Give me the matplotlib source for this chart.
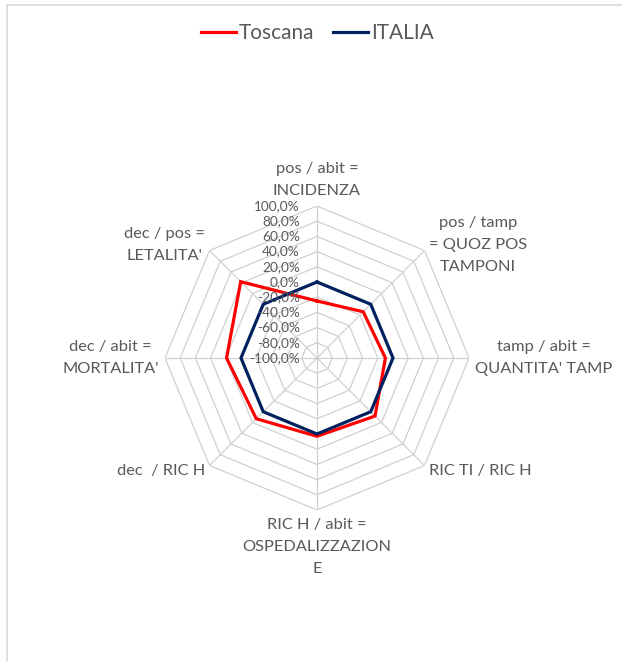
"""
Radar chart: indicatori COVID Toscana vs ITALIA (scarto relativo).
"""
import numpy as np
import matplotlib.pyplot as plt
from matplotlib.lines import Line2D

# dati
categories = [
    "pos / abit =\nINCIDENZA",
    "pos / tamp\n= QUOZ POS\nTAMPONI",
    "tamp / abit =\nQUANTITA' TAMP",
    "RIC TI / RIC H",
    "RIC H / abit =\nOSPEDALIZZAZION\nE",
    "dec  / RIC H",
    "dec / abit =\nMORTALITA'",
    "dec / pos =\nLETALITA'",
]
toscana = [-25, -14, -10, 8, 3, 13, 19, 42]
italia = [0, 0, 0, 0, 0, 0, 0, 0]
ticks = [-100, -80, -60, -40, -20, 0, 20, 40, 60, 80, 100]
tick_labels = [f"{t:.1f}%".replace(".", ",") for t in ticks]

COL_TOSCANA = "#FF0000"
COL_ITALIA = "#002060"
COL_GRID = "#D0D0D0"
COL_TEXT = "#595959"
FONT = ["Lato", "DejaVu Sans"]

W, H = 622, 661
fig = plt.figure(figsize=(W / 100, H / 100), dpi=100)

# centro (317, 358) px, raggio 152 px
cx, cy, rad = 317, 358, 152
ax = fig.add_axes([(cx - rad) / W, (H - cy - rad) / H, 2 * rad / W, 2 * rad / H],
                  projection="polar")
ax.set_theta_zero_location("N")
ax.set_theta_direction(-1)
ax.set_ylim(-100, 100)
ax.grid(False)
ax.spines["polar"].set_visible(False)
ax.set_xticks([])
ax.set_yticks([])
ax.patch.set_visible(False)

n = len(categories)
angles = np.linspace(0, 2 * np.pi, n, endpoint=False)
closed = np.concatenate([angles, angles[:1]])

# griglia poligonale
for t in ticks[1:]:
    ax.plot(closed, [t] * (n + 1), color=COL_GRID, lw=0.9, zorder=1)
for a in angles:
    ax.plot([a, a], [-100, 100], color=COL_GRID, lw=0.9, zorder=1)

# serie
ax.plot(closed, toscana + toscana[:1], color=COL_TOSCANA, lw=2.3, zorder=3,
        solid_joinstyle="miter")
ax.plot(closed, italia + italia[:1], color=COL_ITALIA, lw=2.3, zorder=4,
        solid_joinstyle="miter")

# etichette asse valori
for t, lab in zip(ticks, tick_labels):
    ax.annotate(lab, xy=(0, t), xytext=(-17, 0), textcoords="offset pixels",
                ha="right", va="center", fontsize=9.8, color=COL_TEXT,
                family=FONT, zorder=5)

# etichette categorie
for a, lab in zip(angles, categories):
    s, c = np.sin(a), np.cos(a)
    if abs(s) < 0.1:
        ha = "center"
    elif s > 0:
        ha = "left"
    else:
        ha = "right"
    if c > 0.9:
        va = "bottom"
    elif c < -0.9:
        va = "top"
    else:
        va = "center"
    ax.annotate(lab, xy=(a, 100), xytext=(6 * s, 8 * c), textcoords="offset pixels",
                ha=ha, va=va, ma="center", fontsize=11.8, color=COL_TEXT,
                family=FONT, linespacing=1.72)

# legenda
handles = [Line2D([], [], color=COL_TOSCANA, lw=2.3),
           Line2D([], [], color=COL_ITALIA, lw=2.3)]
leg = fig.legend(handles, ["Toscana", "ITALIA"], loc="center",
                 bbox_to_anchor=(0.51, 1 - 33 / H), ncol=2, frameon=False,
                 handlelength=1.7, handletextpad=0.12, columnspacing=0.9,
                 prop={"family": FONT, "size": 15})
for txt in leg.get_texts():
    txt.set_color(COL_TEXT)

# bordo area grafico (visibile solo a sinistra e in alto)
fig.add_artist(Line2D([7 / W, 7 / W], [0, 1 - 5 / H], transform=fig.transFigure,
                      color="#D9D9D9", lw=1.2))
fig.add_artist(Line2D([7 / W, 1], [1 - 5 / H, 1 - 5 / H], transform=fig.transFigure,
                      color="#D9D9D9", lw=1.2))

fig.savefig("out.png", dpi=100)
